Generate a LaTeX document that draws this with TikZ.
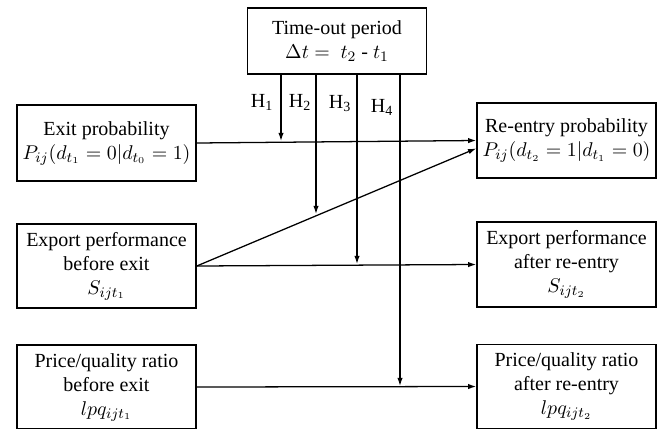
\documentclass[tikz,border=0pt]{standalone}
\usepackage{fontspec}
\setmainfont{Liberation Serif}
\usetikzlibrary{arrows.meta}
\begin{document}
\begin{tikzpicture}[x=0.55pt,y=-0.55pt,
  box/.style={draw, line width=0.8pt, align=center, inner sep=2pt,
    minimum width=98.5pt, font=\fontsize{11}{13.2}\selectfont},
  e/.style={line width=0.7pt, -{Latex[length=4.5pt,width=3pt]}},
  h/.style={inner sep=0pt, font=\fontsize{11}{12}\selectfont}
]
\useasboundingbox (0,0) rectangle (661,429);
\clip (0,0) rectangle (661,428);

% --- time-out box on top ---
\node[box, minimum height=36.3pt] (time) at (337,41)
  {Time-out period\\ $\Delta t =\ t_2$ - $t_1$};

% --- before exit (left column) ---
\node[box, minimum height=41.8pt] (exit) at (106.5,143)
  {Exit probability\\ $P_{ij}\bigl(d_{t_1}=0|d_{t_0}=1\bigr)$};
\node[box, minimum height=46.2pt] (expb) at (106.5,266)
  {Export performance\\ before exit\\ $S_{ijt_1}$};
\node[box, minimum height=46.2pt] (lpqb) at (106.5,387)
  {Price/quality ratio\\ before exit\\ $lpq_{ijt_1}$};

% --- after re-entry (right column) ---
\node[box, minimum height=41.3pt] (reent) at (566.5,140.5)
  {Re-entry probability\\ $P_{ij}\bigl(d_{t_2}=1|d_{t_1}=0\bigr)$};
\node[box, minimum height=46.8pt] (expa) at (566.5,264.5)
  {Export performance\\ after re-entry\\ $S_{ijt_2}$};
\node[box, minimum height=46.2pt] (lpqa) at (566.5,386.5)
  {Price/quality ratio\\ after re-entry\\ $lpq_{ijt_2}$};

% --- main effects ---
\draw[e] (exit.east) -- (reent.west);
\draw[e] (expb.east) -- (reent.185);
\draw[e] (expb.east) -- (expa.west);
\draw[e] (lpqb.east) -- (lpqa.west);

% --- moderating arrows H1..H4 (ends sit on the lines) ---
\coordinate (h1) at (281,141);
\coordinate (h2) at (316,214);
\coordinate (h3) at (357,264);
\coordinate (h4) at (400,386);

\draw[e] (time.south -| h1) -- (h1);
\draw[e] (time.south -| h2) -- (h2);
\draw[e] (time.south -| h3) -- (h3);
\draw[e] (time.south -| h4) -- (h4);

\node[h] (l1) at (262,102) {H\textsubscript{1}};
\node[h] (l2) at (300,102) {H\textsubscript{2}};
\node[h] (l3) at (340,104) {H\textsubscript{3}};
\node[h] (l4) at (382,107) {H\textsubscript{4}};

\end{tikzpicture}
\end{document}
